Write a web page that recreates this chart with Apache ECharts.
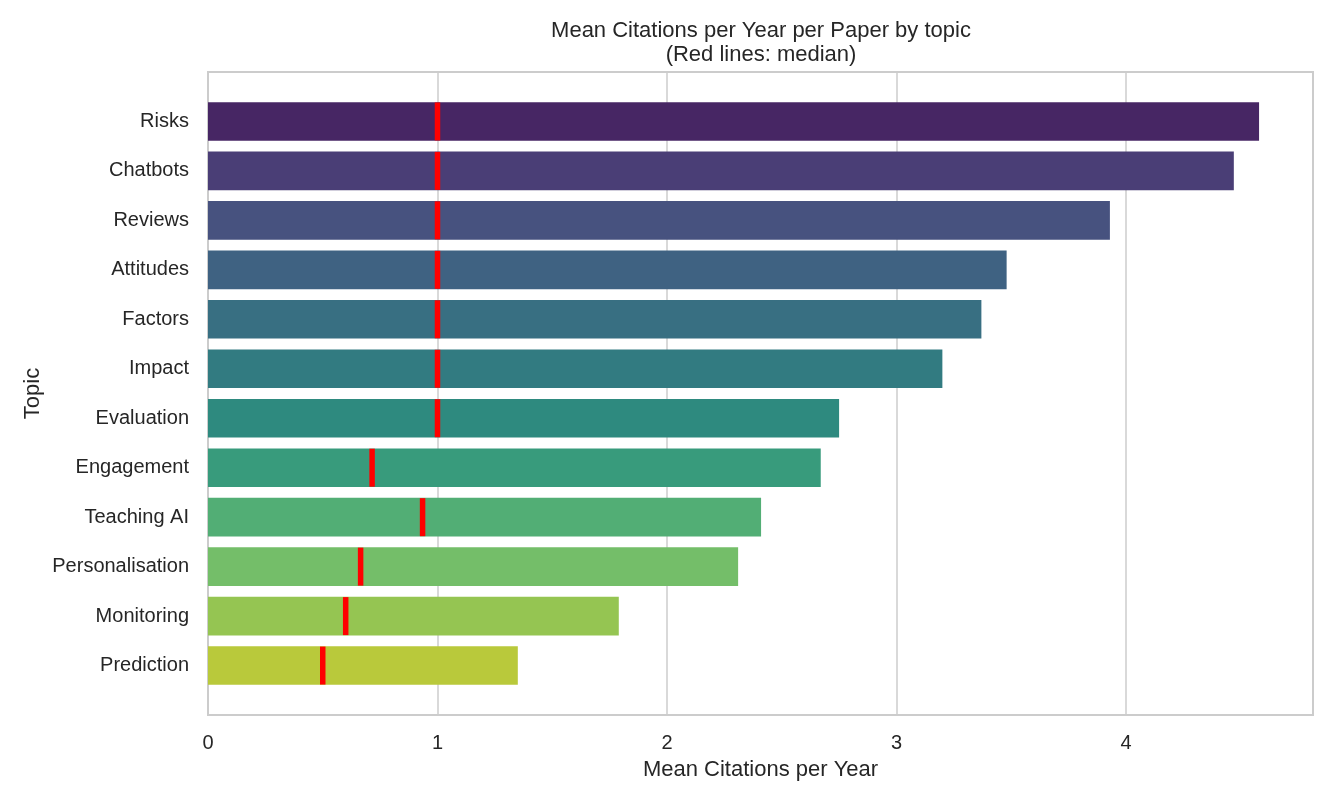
<!DOCTYPE html>
<html>
<head>
<meta charset="utf-8">
<title>Mean Citations per Year per Paper by topic</title>
<script src="https://cdn.jsdelivr.net/npm/echarts@6/dist/echarts.min.js"></script>
<style>
  html, body { margin: 0; padding: 0; background: #fff; }
  #main { width: 1338px; height: 802px; }
</style>
</head>
<body>
<div id="main"></div>
<script>
// topics, top to bottom
var topics = ['Risks', 'Chatbots', 'Reviews', 'Attitudes', 'Factors', 'Impact',
  'Evaluation', 'Engagement', 'Teaching AI', 'Personalisation', 'Monitoring', 'Prediction'];
// mean citations per year per paper
var meanValues = [4.58, 4.47, 3.93, 3.48, 3.37, 3.20, 2.75, 2.67, 2.41, 2.31, 1.79, 1.35];
// median citations per year (red lines)
var medianValues = [1.0, 1.0, 1.0, 1.0, 1.0, 1.0, 1.0, 0.715, 0.935, 0.665, 0.60, 0.50];
// viridis palette, desaturated like seaborn
var barColors = ['#472664', '#4a3e76', '#47527f', '#3f6282', '#386f82', '#327b81',
  '#2e8a7f', '#389b7c', '#52ae75', '#74be69', '#95c552', '#b9c93b'];

var textColor = '#262626';
var gridColor = '#cccccc';
var fontName = 'Liberation Sans, Arial, sans-serif';

var myChart = echarts.init(document.getElementById('main'));

var barData = meanValues.map(function (v, i) {
  return { value: v, itemStyle: { color: barColors[i] } };
});
var medianData = medianValues.map(function (v, i) {
  return [v, topics[i]];
});

var option = {
  backgroundColor: '#fff',
  animation: false,
  textStyle: { fontFamily: fontName },
  title: {
    text: 'Mean Citations per Year per Paper by topic\n(Red lines: median)',
    left: 756,
    top: 14,
    textAlign: 'center',
    textStyle: {
      fontFamily: fontName,
      fontSize: 22,
      fontWeight: 'normal',
      color: textColor,
      lineHeight: 24
    }
  },
  grid: [
    // frame with gridlines
    { left: 208, right: 25, top: 72, bottom: 87, show: true,
      borderColor: gridColor, borderWidth: 2, backgroundColor: '#fff' },
    // inner area for the bars (half a band of padding top and bottom)
    { left: 208, right: 25, top: 96.7, bottom: 111.7 }
  ],
  xAxis: [
    {
      gridIndex: 0,
      type: 'value',
      min: 0,
      max: 4.815,
      interval: 1,
      axisLine: { show: false },
      axisTick: { show: false },
      splitLine: { show: true, lineStyle: { color: gridColor, width: 1.5 } },
      axisLabel: {
        showMaxLabel: false,
        fontSize: 20,
        color: textColor,
        margin: 18,
        fontFamily: fontName
      },
      name: 'Mean Citations per Year',
      nameLocation: 'middle',
      nameMoveOverlap: false,
      nameGap: 44,
      nameTextStyle: { fontSize: 22, color: textColor, fontFamily: fontName }
    },
    {
      gridIndex: 1,
      type: 'value',
      min: 0,
      max: 4.815,
      show: false,
      splitLine: { show: false }
    }
  ],
  yAxis: [
    { gridIndex: 0, type: 'value', show: false, splitLine: { show: false } },
    {
      gridIndex: 1,
      type: 'category',
      inverse: true,
      data: topics,
      axisLine: { show: false },
      axisTick: { show: false },
      splitLine: { show: false },
      axisLabel: { fontSize: 20, color: textColor, margin: 19, fontFamily: fontName },
      name: 'Topic',
      nameLocation: 'middle',
      nameMoveOverlap: false,
      nameGap: 164,
      nameRotate: 90,
      nameTextStyle: { fontSize: 22, color: textColor, fontFamily: fontName }
    }
  ],
  series: [
    {
      type: 'bar',
      xAxisIndex: 1,
      yAxisIndex: 1,
      barWidth: '78%',
      data: barData,
      z: 2
    },
    {
      type: 'scatter',
      xAxisIndex: 1,
      yAxisIndex: 1,
      symbol: 'rect',
      symbolSize: [5.5, 38],
      itemStyle: { color: '#ff0000', opacity: 1 },
      data: medianData,
      z: 5
    }
  ]
};
myChart.setOption(option);
</script>
</body>
</html>
